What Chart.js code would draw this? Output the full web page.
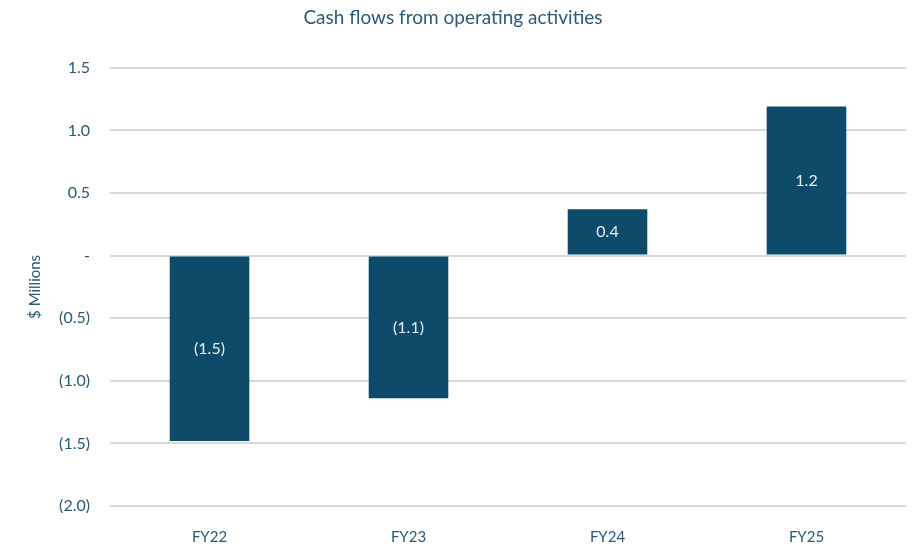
<!DOCTYPE html>
<html>
<head>
<meta charset="utf-8">
<script src="https://cdn.jsdelivr.net/npm/chart.js@4.4.0/dist/chart.umd.min.js"></script>
<style>
    html, body { margin: 0; padding: 0; background: #ffffff; }
    #wrap { width: 912px; height: 546px; position: relative; }
</style>
</head>
<body>
<div id="wrap"><canvas id="cash-chart"></canvas></div>
<script>
const categories = ['FY22', 'FY23', 'FY24', 'FY25'];
const cashFlows = [-1.48, -1.14, 0.37, 1.19];
const valueLabels = ['(1.5)', '(1.1)', '0.4', '1.2'];
const yTicks = [1.5, 1.0, 0.5, 0, -0.5, -1.0, -1.5, -2.0];

const textColor = '#2a5a78';
const barColor = '#0e4a6a';

function formatTick(value) {
    if (Math.abs(value) < 1e-9) return '-';
    const s = Math.abs(value).toFixed(1);
    return value < 0 ? '(' + s + ')' : s;
}

// draws the value text in the middle of each bar
const barLabels = {
    id: 'barLabels',
    afterDatasetsDraw(chart) {
        const ctx = chart.ctx;
        const meta = chart.getDatasetMeta(0);
        ctx.save();
        ctx.font = '16px Lato';
        ctx.fillStyle = '#e6edf2';
        ctx.textAlign = 'center';
        ctx.textBaseline = 'middle';
        meta.data.forEach((bar, i) => {
            const mid = (bar.y + bar.base) / 2;
            ctx.fillText(valueLabels[i], bar.x, mid);
        });
        ctx.restore();
    }
};

new Chart(document.getElementById('cash-chart'), {
    type: 'bar',
    data: {
        labels: categories,
        datasets: [{
            data: cashFlows,
            backgroundColor: barColor,
            borderWidth: 0,
            categoryPercentage: 1,
            barPercentage: 0.4
        }]
    },
    options: {
        responsive: true,
        maintainAspectRatio: false,
        animation: false,
        layout: { padding: { top: 0, right: 6, bottom: 0, left: 0 } },
        plugins: {
            legend: { display: false },
            tooltip: { enabled: false },
            title: {
                display: true,
                text: 'Cash flows from operating activities',
                color: textColor,
                font: { family: 'Lato', size: 19, weight: 'normal' },
                padding: { top: 6, bottom: 39 }
            }
        },
        scales: {
            y: {
                min: -2,
                max: 1.5,
                afterBuildTicks(axis) {
                    axis.ticks = yTicks.map(v => ({ value: v }));
                },
                afterFit(axis) { axis.width = 110; },
                border: { display: false },
                grid: { color: '#d9d9d9', lineWidth: 2, drawTicks: false },
                ticks: {
                    color: textColor,
                    padding: 20,
                    font: { family: 'Lato', size: 16 },
                    callback: (v) => formatTick(v)
                },
                title: {
                    display: true,
                    text: '$ Millions',
                    color: textColor,
                    font: { family: 'Lato', size: 15 },
                    padding: { top: 26, bottom: 4 }
                }
            },
            x: {
                afterFit(axis) { axis.height = 40; },
                border: { display: false },
                grid: { display: false },
                ticks: {
                    color: textColor,
                    padding: 14,
                    font: { family: 'Lato', size: 15 }
                }
            }
        }
    },
    plugins: [barLabels]
});
</script>
</body>
</html>
